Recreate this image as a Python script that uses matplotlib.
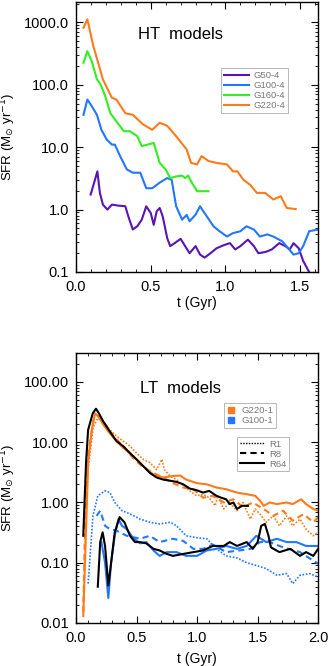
import matplotlib
matplotlib.use("Agg")
import matplotlib.pyplot as plt
from matplotlib.ticker import FixedLocator, MultipleLocator, LogLocator, NullFormatter
from matplotlib.lines import Line2D

plt.rcParams['font.family'] = ['Liberation Sans', 'DejaVu Sans']
plt.rcParams['mathtext.fontset'] = 'dejavusans'

# colours
c_purple = "#5a14b4"
c_blue = "#2277ff"
c_green = "#33ee22"
c_orange = "#ff7a1a"

# ---- HT models (top panel) ----
g220_4_t = [0.05, 0.076, 0.116, 0.18, 0.24, 0.27, 0.33, 0.38, 0.45, 0.51, 0.56, 0.61, 0.67, 0.74, 0.77,
            0.81, 0.84, 0.886, 0.94, 1.01, 1.05, 1.08, 1.12, 1.165, 1.21, 1.266, 1.32, 1.37, 1.41, 1.47]
g220_4_s = [820, 1120, 417, 122, 62, 58, 35, 33, 23, 19, 24.6, 22, 15, 9.2, 5.6,
            5.3, 7.2, 6.0, 5.6, 5.3, 4.1, 4.1, 3.0, 2.5, 1.85, 1.85, 1.45, 1.64, 1.06, 1.02]

g160_4_t = [0.05, 0.076, 0.105, 0.14, 0.165, 0.195, 0.23, 0.26, 0.32, 0.36, 0.41, 0.44, 0.48, 0.52,
            0.54, 0.56, 0.6, 0.63, 0.67, 0.71, 0.73, 0.75, 0.775, 0.81, 0.886]
g160_4_s = [225, 346, 240, 122, 101, 66, 35, 28, 18, 18, 15, 10.4, 11, 11.7,
            8.1, 5.6, 4.4, 3.2, 3.4, 3.5, 3.2, 3.5, 2.7, 1.97, 1.97]

g100_4_t = [0.05, 0.076, 0.105, 0.14, 0.17, 0.205, 0.24, 0.26, 0.295, 0.34, 0.38, 0.43, 0.47, 0.51,
            0.56, 0.61, 0.64, 0.67, 0.71, 0.74, 0.76, 0.8, 0.83, 0.86, 0.92, 0.96, 1.01, 1.05,
            1.1, 1.14, 1.19, 1.23, 1.28, 1.32, 1.38, 1.42, 1.455, 1.49, 1.52, 1.56, 1.62]
g100_4_s = [33, 58, 45.6, 33, 19, 13.3, 11, 11, 7.2, 4.4, 3.9, 3.9, 2.2, 2.2,
            2.7, 3.2, 3.0, 1.13, 0.69, 0.82, 0.65, 0.83, 1.13, 0.88, 0.54, 0.45, 0.37, 0.42,
            0.45, 0.54, 0.48, 0.37, 0.40, 0.37, 0.31, 0.24, 0.19, 0.2, 0.26, 0.45, 0.48]

g50_4_t = [0.098, 0.127, 0.143, 0.16, 0.18, 0.21, 0.24, 0.28, 0.33, 0.35, 0.38, 0.41, 0.44, 0.47,
           0.5, 0.52, 0.54, 0.56, 0.58, 0.61, 0.63, 0.66, 0.7, 0.73, 0.76, 0.8, 0.83, 0.86, 0.9,
           0.94, 0.99, 1.03, 1.065, 1.1, 1.15, 1.19, 1.22, 1.27, 1.31, 1.36, 1.4, 1.43, 1.455,
           1.49, 1.52, 1.56, 1.57]
g50_4_s = [1.74, 3.0, 4.1, 1.85, 1.2, 1.0, 1.2, 1.16, 1.13, 0.78, 0.48, 0.54, 0.69, 1.13,
           0.88, 0.57, 0.94, 1.06, 0.78, 0.35, 0.26, 0.29, 0.34, 0.26, 0.2, 0.26, 0.19, 0.17, 0.2,
           0.24, 0.27, 0.29, 0.23, 0.26, 0.33, 0.26, 0.2, 0.21, 0.23, 0.29, 0.26, 0.23, 0.29,
           0.24, 0.15, 0.10, 0.085]

# ---- LT models (bottom panel) ----
g220_r64_t = [0.06, 0.083, 0.10, 0.13, 0.157, 0.184, 0.226, 0.28, 0.335, 0.39, 0.47, 0.556, 0.64,
              0.72, 0.8, 0.86, 0.91, 0.996, 1.08, 1.16, 1.24, 1.33, 1.41, 1.48, 1.52, 1.55, 1.6,
              1.66, 1.74, 1.79, 1.86, 1.9, 1.96, 2.0]
g220_r64_s = [0.013, 0.36, 4.6, 16, 30, 27, 19.5, 14, 10.4, 8.1, 5.9, 4.0, 2.9,
              2.6, 2.75, 2.8, 2.4, 2.1, 2.0, 1.77, 1.66, 1.46, 1.37, 1.29, 1.07, 0.88, 1.0,
              0.94, 1.0, 0.94, 1.13, 0.94, 0.78, 0.73]

g220_r8_t = [0.06, 0.074, 0.1, 0.143, 0.176, 0.226, 0.31, 0.39, 0.47, 0.556, 0.64, 0.72, 0.8, 0.886,
             0.97, 1.05, 1.13, 1.22, 1.3, 1.38, 1.46, 1.55, 1.63, 1.71, 1.79, 1.88, 1.96, 2.0]
g220_r8_s = [0.015, 0.36, 5.9, 23, 28, 22, 12.6, 8.6, 5.5, 3.8, 3.1, 2.6, 2.1, 1.77,
             1.66, 1.2, 1.29, 1.0, 1.13, 0.83, 1.0, 0.78, 0.6, 0.73, 0.5, 0.64, 0.47, 0.57]

g220_r1_t = [0.074, 0.1, 0.143, 0.18, 0.226, 0.28, 0.335, 0.39, 0.446, 0.5, 0.556, 0.61, 0.666, 0.71,
             0.73, 0.776, 0.83, 0.886, 0.94, 0.996, 1.05, 1.1, 1.15, 1.17, 1.22, 1.27, 1.33, 1.38,
             1.44, 1.48, 1.52, 1.57, 1.63, 1.68, 1.74, 1.79, 1.85, 1.9, 1.96, 2.0]
g220_r1_s = [0.19, 3.5, 18, 25, 22, 16, 12.6, 10.4, 8.6, 6.6, 5.2, 4.6, 3.5, 5.2,
             3.5, 2.75, 2.4, 1.9, 1.56, 1.29, 1.37, 1.2, 0.88, 1.29, 0.78, 1.0, 0.73, 1.0,
             0.53, 0.78, 0.64, 0.47, 0.6, 0.41, 0.6, 0.41, 0.53, 0.36, 0.28, 0.32]

g220_bk_t = [0.06, 0.083, 0.1, 0.138, 0.165, 0.19, 0.226, 0.28, 0.335, 0.39, 0.446, 0.5, 0.556, 0.61,
             0.666, 0.72, 0.776, 0.83, 0.886, 0.94, 0.996, 1.05, 1.1, 1.16, 1.2, 1.24, 1.27, 1.3,
             1.33, 1.37, 1.42]
g220_bk_s = [0.28, 4.6, 16, 30, 36, 30, 22, 15, 10.4, 8.6, 6.6, 5.2, 4.0, 3.1,
             2.6, 2.4, 2.3, 2.2, 2.0, 1.7, 1.6, 1.46, 1.56, 1.29, 1.2, 1.13, 0.94, 1.0,
             0.78, 0.88, 0.88]

g100_r64_t = [0.21, 0.24, 0.267, 0.29, 0.32, 0.35, 0.38, 0.42, 0.47, 0.53, 0.58, 0.64, 0.69, 0.75,
              0.83, 0.91, 1.0, 1.08, 1.16, 1.24, 1.33, 1.41, 1.49, 1.57, 1.66, 1.74, 1.82, 1.9, 2.0]
g100_r64_s = [0.22, 0.10, 0.026, 0.10, 0.28, 0.53, 0.41, 0.36, 0.26, 0.21, 0.22, 0.16, 0.13, 0.15,
              0.15, 0.13, 0.13, 0.16, 0.17, 0.19, 0.17, 0.19, 0.28, 0.22, 0.25, 0.22, 0.22, 0.19, 0.19]

g100_r8_t = [0.17, 0.2, 0.24, 0.28, 0.335, 0.42, 0.53, 0.61, 0.69, 0.8, 0.886, 0.97, 1.05, 1.13,
             1.24, 1.35, 1.44, 1.52, 1.6, 1.71, 1.85, 2.0]
g100_r8_s = [0.6, 0.73, 0.41, 0.36, 0.34, 0.28, 0.25, 0.28, 0.22, 0.25, 0.23, 0.17, 0.17, 0.2,
             0.15, 0.16, 0.17, 0.22, 0.22, 0.18, 0.15, 0.096]

g100_r1_t = [0.1, 0.14, 0.18, 0.24, 0.28, 0.32, 0.38, 0.45, 0.53, 0.61, 0.69, 0.78, 0.83, 0.91,
             1.0, 1.08, 1.16, 1.24, 1.33, 1.41, 1.49, 1.57, 1.66, 1.74, 1.79, 1.85, 1.93, 2.0]
g100_r1_s = [0.045, 0.6, 1.29, 1.56, 1.46, 1.0, 0.73, 0.64, 0.53, 0.47, 0.44, 0.47, 0.41, 0.28,
             0.26, 0.25, 0.17, 0.13, 0.12, 0.10, 0.09, 0.08, 0.062, 0.066, 0.045, 0.062, 0.066, 0.058]

g100_bk_t = [0.18, 0.2, 0.22, 0.24, 0.267, 0.29, 0.32, 0.36, 0.4, 0.446, 0.487, 0.53, 0.58, 0.64,
             0.69, 0.75, 0.8, 0.886, 0.97, 1.05, 1.13, 1.22, 1.27, 1.33, 1.41, 1.46, 1.5, 1.53,
             1.56, 1.59, 1.61, 1.68, 1.77, 1.85, 1.9, 1.96, 2.0]
g100_bk_s = [0.04, 0.22, 0.32, 0.19, 0.042, 0.1, 0.32, 0.57, 0.47, 0.28, 0.22, 0.22, 0.21, 0.17,
             0.16, 0.14, 0.13, 0.14, 0.15, 0.16, 0.19, 0.19, 0.22, 0.19, 0.22, 0.17, 0.22, 0.41,
             0.44, 0.28, 0.18, 0.15, 0.17, 0.13, 0.15, 0.13, 0.17]

ylab = r"SFR (M$_{\odot}$ yr$^{-1}$)"

fig = plt.figure(figsize=(3.29, 6.66), dpi=100)
ax1 = fig.add_axes([0.231, 0.5916, 0.736, 0.405])
ax2 = fig.add_axes([0.231, 0.0646, 0.736, 0.405])


def style(ax, xmax, ylo, yhi, ticks, labels, xticks, xpad):
    ax.set_yscale('log')
    ax.set_xlim(0, xmax)
    ax.set_ylim(ylo, yhi)
    ax.yaxis.set_major_locator(FixedLocator(ticks))
    ax.set_yticklabels(labels)
    ax.yaxis.set_minor_locator(LogLocator(base=10, subs=range(2, 10), numticks=20))
    ax.yaxis.set_minor_formatter(NullFormatter())
    ax.set_xticks(xticks)
    ax.set_xticklabels(["%.1f" % v for v in xticks])
    ax.xaxis.set_minor_locator(MultipleLocator(0.1))
    ax.tick_params(which='both', direction='in', top=True, right=True, labelsize=10.5)
    ax.tick_params(which='major', length=5, width=0.8)
    ax.tick_params(which='minor', length=2.5, width=0.6)
    ax.tick_params(axis='x', pad=6)
    ax.tick_params(axis='y', pad=5)
    ax.set_xlabel("t (Gyr)", fontsize=10, labelpad=xpad)
    ax.set_ylabel(ylab, fontsize=9.5, labelpad=4)
    for s in ax.spines.values():
        s.set_linewidth(1.0)


lw = 1.5
ax1.plot(g50_4_t, g50_4_s, color=c_purple, lw=lw, label="G50-4")
ax1.plot(g100_4_t, g100_4_s, color=c_blue, lw=lw, label="G100-4")
ax1.plot(g160_4_t, g160_4_s, color=c_green, lw=lw, label="G160-4")
ax1.plot(g220_4_t, g220_4_s, color=c_orange, lw=lw, label="G220-4")
style(ax1, 1.62, 0.1, 2100, [0.1, 1, 10, 100, 1000],
      ["0.1", "1.0", "10.0", "100.0", "1000.0"], [0.0, 0.5, 1.0, 1.5], 1.5)
ax1.text(0.43, 0.88, "HT  models", transform=ax1.transAxes, ha='center', va='center', fontsize=12)
leg1 = ax1.legend(loc='upper left', bbox_to_anchor=(0.6, 0.755), fontsize=6.8, frameon=True,
                  fancybox=False, edgecolor='#999999', handlelength=2.6, handletextpad=0.5,
                  borderpad=0.3, labelspacing=0.1, labelcolor='#777777', borderaxespad=0)
leg1.get_frame().set_linewidth(0.6)

ax2.plot(g220_r1_t, g220_r1_s, color=c_orange, lw=1.2, ls=(0, (1, 1)))
ax2.plot(g220_r8_t, g220_r8_s, color=c_orange, lw=1.5, ls=(0, (3, 2)))
ax2.plot(g220_r64_t, g220_r64_s, color=c_orange, lw=lw)
ax2.plot(g100_r1_t, g100_r1_s, color=c_blue, lw=1.2, ls=(0, (1, 1)))
ax2.plot(g100_r8_t, g100_r8_s, color=c_blue, lw=1.5, ls=(0, (3, 2)))
ax2.plot(g100_r64_t, g100_r64_s, color=c_blue, lw=lw)
ax2.plot(g220_bk_t, g220_bk_s, color='black', lw=lw)
ax2.plot(g100_bk_t, g100_bk_s, color='black', lw=lw)
style(ax2, 2.0, 0.01, 300, [0.01, 0.1, 1, 10, 100],
      ["0.01", "0.10", "1.00", "10.00", "100.00"], [0.0, 0.5, 1.0, 1.5, 2.0], 4.5)
ax2.text(0.43, 0.87, "LT  models", transform=ax2.transAxes, ha='center', va='center', fontsize=12)

h_col = [Line2D([], [], ls='none', marker='s', ms=4, color=c_orange),
         Line2D([], [], ls='none', marker='s', ms=4, color=c_blue)]
leg2 = ax2.legend(h_col, ["G220-1", "G100-1"], loc='upper left', bbox_to_anchor=(0.61, 0.815),
                  fontsize=6.8, frameon=True, fancybox=False, edgecolor='#999999',
                  handlelength=1.0, handletextpad=0.6, borderpad=0.3, labelspacing=0.1,
                  labelcolor='#777777', borderaxespad=0)
leg2.get_frame().set_linewidth(0.6)
ax2.add_artist(leg2)
h_ls = [Line2D([], [], color='black', lw=1.0, ls=(0, (1, 1))),
        Line2D([], [], color='black', lw=1.5, ls=(0, (3, 2))),
        Line2D([], [], color='black', lw=1.5)]
leg3 = ax2.legend(h_ls, ["R1", "R8", "R64"], loc='upper left', bbox_to_anchor=(0.665, 0.69),
                  fontsize=6.8, frameon=True, fancybox=False, edgecolor='#999999',
                  handlelength=2.6, handletextpad=0.5, borderpad=0.3, labelspacing=0.1,
                  labelcolor='#777777', borderaxespad=0)
leg3.get_frame().set_linewidth(0.6)

fig.savefig("out.png", dpi=100)
